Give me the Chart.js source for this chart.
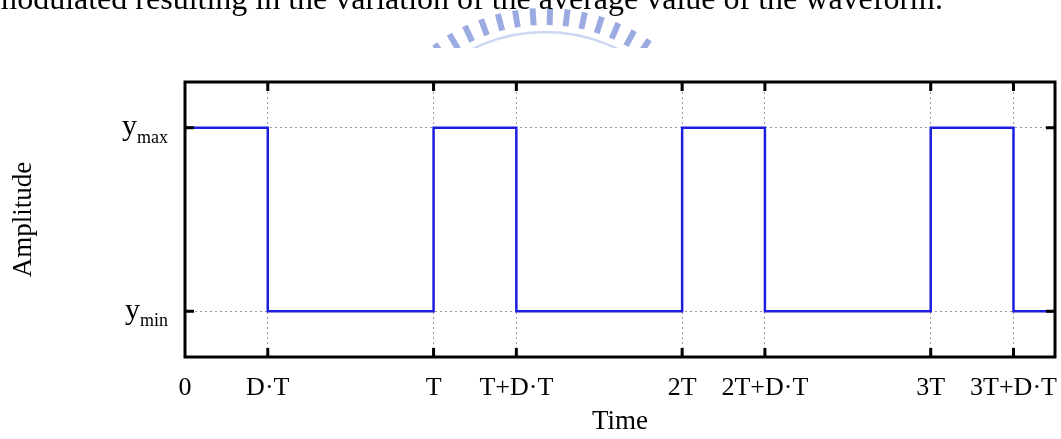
<!DOCTYPE html>
<html>
<head>
<meta charset="utf-8">
<script src="https://cdn.jsdelivr.net/npm/chart.js@4.4.1/dist/chart.umd.min.js"></script>
<style>
  html, body { margin: 0; padding: 0; background: #fff; }
  #wrap { width: 1061px; height: 439px; position: relative; }
</style>
</head>
<body>
<div id="wrap"><canvas id="chart"></canvas></div>
<script>
/* ── waveform data (time in units of T, amplitude 0 = y_min, 1 = y_max) ── */
const EDGE_T = [0, 0.333, 1, 1.333, 2, 2.333, 3, 3.333, 3.5];
const LEVEL  = [1, 0,     1, 0,     1, 0,     1, 0,     0];

const TICK_POS    = [0, 0.333, 1, 1.333, 2, 2.333, 3, 3.333];
const TICK_LABELS = ['0', 'D\u00B7T', 'T', 'T+D\u00B7T', '2T', '2T+D\u00B7T', '3T', '3T+D\u00B7T'];
const Y_POS    = [0, 1];
const Y_LABELS = [['y', 'min'], ['y', 'max']];

const CAPTION = 'modulated resulting in the variation of the average value of the waveform.';
const SERIF = '"Liberation Serif", "Times New Roman", serif';

/* ── page header: caption line and faint seal ── */
const headerPlugin = {
  id: 'header',
  beforeDraw(chart) {
    const { ctx } = chart;
    ctx.save();
    ctx.beginPath();
    ctx.rect(0, 0, 1061, 48);
    ctx.clip();
    const cx = 545, cy = 195;
    ctx.strokeStyle = 'rgba(130,150,218,0.8)';
    ctx.lineWidth = 6;
    for (let a = -Math.PI; a <= 0; a += 0.094) {
      ctx.beginPath();
      ctx.moveTo(cx + Math.cos(a) * 170, cy + Math.sin(a) * 170);
      ctx.lineTo(cx + Math.cos(a) * 187, cy + Math.sin(a) * 187);
      ctx.stroke();
    }
    ctx.strokeStyle = 'rgba(185,198,235,0.7)';
    ctx.lineWidth = 2.5;
    ctx.beginPath();
    ctx.arc(cx, cy, 163, Math.PI, 2 * Math.PI);
    ctx.stroke();
    ctx.restore();

    ctx.save();
    ctx.font = '32px ' + SERIF;
    ctx.fillStyle = '#000';
    ctx.textAlign = 'right';
    ctx.textBaseline = 'alphabetic';
    ctx.fillText(CAPTION, 943, 9);
    ctx.restore();
  },
};

/* ── frame, inward ticks, y labels with subscripts, axis titles ── */
const framePlugin = {
  id: 'frame',
  afterDatasetsDraw(chart) {
    const { ctx, chartArea: ca, scales } = chart;
    ctx.save();
    ctx.strokeStyle = '#000';
    ctx.lineWidth = 3;
    ctx.lineCap = 'butt';
    const tl = 9;
    for (const v of TICK_POS) {
      if (v === 0) continue;
      const px = scales.x.getPixelForValue(v);
      ctx.beginPath();
      ctx.moveTo(px, ca.bottom); ctx.lineTo(px, ca.bottom - tl);
      ctx.moveTo(px, ca.top);    ctx.lineTo(px, ca.top + tl);
      ctx.stroke();
    }
    for (const v of Y_POS) {
      const py = scales.y.getPixelForValue(v);
      ctx.beginPath();
      ctx.moveTo(ca.left, py);  ctx.lineTo(ca.left + tl, py);
      ctx.moveTo(ca.right, py); ctx.lineTo(ca.right - tl, py);
      ctx.stroke();
    }
    ctx.strokeRect(ca.left, ca.top, ca.right - ca.left, ca.bottom - ca.top);

    ctx.fillStyle = '#000';
    ctx.textBaseline = 'alphabetic';
    Y_POS.forEach((v, i) => {
      const py = scales.y.getPixelForValue(v);
      const [base, sub] = Y_LABELS[i];
      ctx.font = '18px ' + SERIF;
      const subW = ctx.measureText(sub).width;
      const right = ca.left - 17;
      ctx.textAlign = 'right';
      ctx.fillText(sub, right, py + 15);
      ctx.font = '30px ' + SERIF;
      ctx.fillText(base, right - subW, py + 7.5);
    });

    ctx.font = '27px ' + SERIF;
    ctx.textAlign = 'center';
    ctx.textBaseline = 'middle';
    ctx.fillText('Time', (ca.left + ca.right) / 2, 422);
    ctx.translate(24, (ca.top + ca.bottom) / 2);
    ctx.rotate(-Math.PI / 2);
    ctx.fillText('Amplitude', 0, 0);
    ctx.restore();
  },
};

new Chart(document.getElementById('chart'), {
  type: 'scatter',
  data: {
    datasets: [{
      data: EDGE_T.map((t, i) => ({ x: t, y: LEVEL[i] })),
      showLine: true,
      stepped: 'before',
      borderColor: '#1e1ee0',
      borderWidth: 2.5,
      pointRadius: 0,
    }],
  },
  options: {
    animation: false,
    responsive: true,
    maintainAspectRatio: false,
    layout: { padding: { top: 82, right: 6, left: 0, bottom: 0 } },
    plugins: { legend: { display: false }, tooltip: { enabled: false } },
    scales: {
      x: {
        type: 'linear', min: 0, max: 3.5,
        afterBuildTicks: s => { s.ticks = TICK_POS.map(v => ({ value: v })); },
        afterFit: s => { s.height = 82; s.paddingLeft = 0; s.paddingRight = 0; },
        grid: { color: '#9a9a9a', lineWidth: 1, drawTicks: false },
        border: { display: false, dash: [2, 3] },
        ticks: {
          color: '#000',
          padding: 16,
          maxRotation: 0,
          autoSkip: false,
          font: { family: SERIF, size: 26 },
          callback: (v, i) => TICK_LABELS[i],
        },
      },
      y: {
        min: -0.25, max: 1.25,
        afterBuildTicks: s => { s.ticks = Y_POS.map(v => ({ value: v })); },
        afterFit: s => { s.width = 185; },
        grid: { color: '#9a9a9a', lineWidth: 1, drawTicks: false },
        border: { display: false, dash: [2, 3] },
        ticks: { display: false },
      },
    },
  },
  plugins: [headerPlugin, framePlugin],
});
</script>
</body>
</html>
